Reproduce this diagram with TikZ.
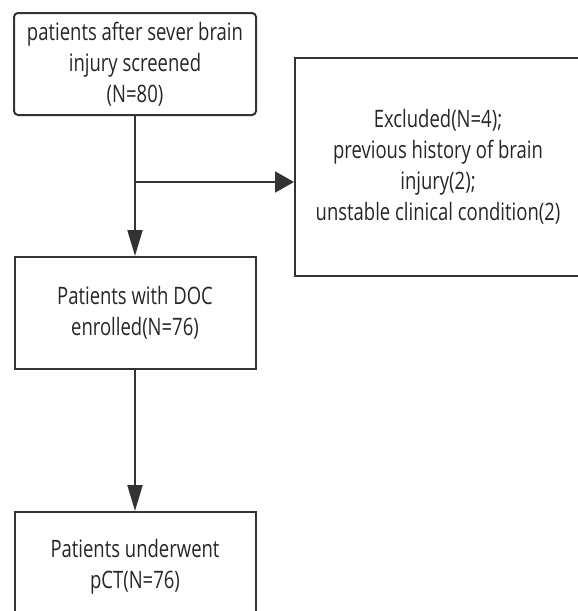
\documentclass[tikz,border=0pt]{standalone}
\usepackage{fontspec}
\setmainfont[FakeStretch=0.77]{Open Sans}
\usetikzlibrary{arrows.meta}
\begin{document}
\begin{tikzpicture}[x=1pt,y=1pt,
    box/.style={draw=black!80, line width=2pt, align=center, inner sep=0pt,
      font=\fontsize{24}{31}\selectfont, text=black!85},
    down/.style={draw=black!80, line width=2pt, -{Triangle[length=26pt,width=15pt]}},
    side/.style={draw=black!80, line width=2pt, -{Triangle[length=19pt,width=21pt]}}]
    \useasboundingbox (0,0) rectangle (578,-611);
    \node[box, rounded corners=4pt, minimum width=242pt, minimum height=102pt]
        (screened) at (135,-64) {patients after sever brain\\injury screened\\(N=80)};
    \node[box, minimum width=286pt, minimum height=218pt]
        (excluded) at (438,-167) {Excluded(N=4);\\previous history of brain\\injury(2);\\unstable clinical condition(2)};
    \node[box, minimum width=241pt, minimum height=112pt]
        (enrolled) at (135,-313) {Patients with DOC\\enrolled(N=76)};
    \node[box, minimum width=241pt, minimum height=109pt]
        (underwent) at (135,-566.5) {Patients underwent\\pCT(N=76)};
    \coordinate (branch) at (135,-182);
    \draw[down] (screened.south) -- (enrolled.north);
    \draw[side] (branch) -- (branch -| excluded.west);
    \draw[down] (enrolled.south) -- (underwent.north);
\end{tikzpicture}
\end{document}
